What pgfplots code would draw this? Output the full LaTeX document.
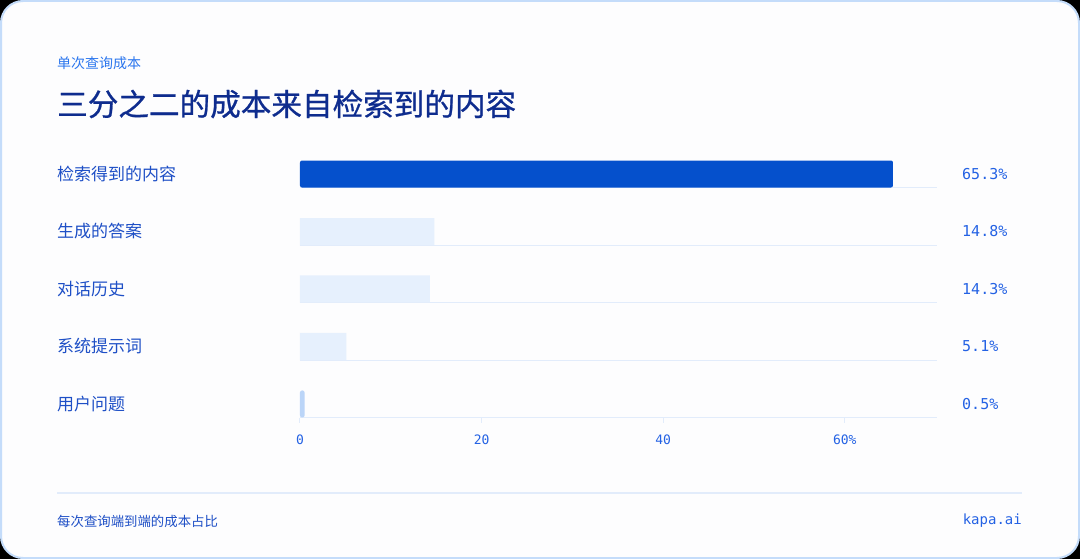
\documentclass[border=0pt]{standalone}
\usepackage{fontspec}
\usepackage{pgfplots}
\pgfplotsset{compat=1.18}
\setmainfont{Noto Sans CJK SC}
\newfontfamily\cjk{Noto Sans CJK SC}
\newfontfamily\cjktitle[FakeBold=0.8]{Noto Sans CJK SC}
\newfontfamily\mono{DejaVu Sans Mono}
\definecolor{cardbg}{HTML}{FDFDFE}
\definecolor{cardborder}{HTML}{C4DCFA}
\definecolor{subblue}{HTML}{2B76EE}
\definecolor{titlenavy}{HTML}{0E2C8E}
\definecolor{catblue}{HTML}{1E4FC6}
\definecolor{valblue}{HTML}{2462E4}
\definecolor{bardark}{HTML}{0550CC}
\definecolor{barlight}{HTML}{E6F0FD}
\definecolor{barfaint}{HTML}{BBD5F8}
\definecolor{linecol}{HTML}{E2ECFB}
\begin{document}
\begin{tikzpicture}[x=1pt,y=1pt]
\fill[black] (0,0) rectangle (1080,-559);
\draw[fill=cardbg, draw=cardborder, line width=2pt, rounded corners=22pt] (1,-1) rectangle (1079,-558);
\node[anchor=west, inner sep=0pt, text=subblue, font=\cjk\fontsize{14}{14}\selectfont] at (57,-63) {单次查询成本};
\node[anchor=west, inner sep=0pt, text=titlenavy, font=\cjktitle\fontsize{30.6}{31}\selectfont] at (57,-104) {三分之二的成本来自检索到的内容};
\draw[linecol, line width=1.5pt] (57,-493) -- (1022,-493);
\node[anchor=west, inner sep=0pt, text=catblue, font=\cjk\fontsize{13.4}{14}\selectfont] at (57,-521) {每次查询端到端的成本占比};
\node[anchor=east, inner sep=0pt, text=valblue, font=\mono\fontsize{14}{14}\selectfont] at (1022,-521) {kapa.ai};
\begin{axis}[
  at={(300pt,-417.5pt)}, anchor=south west,
  width=637pt, height=278pt, scale only axis,
  xmin=0, xmax=70.15, ymin=-0.6, ymax=4.235,
  y dir=reverse,
  xbar, bar width=27pt,
  axis line style={draw=none},
  ytick={0,1,2,3,4},
  yticklabels={检索得到的内容,生成的答案,对话历史,系统提示词,用户问题},
  ytick style={draw=none},
  yticklabel style={anchor=west, inner sep=0pt, xshift=-238pt, text=catblue, font=\cjk\fontsize{17}{17}\selectfont},
  xtick={0,20,40,60},
  xticklabels={0,20,40,60\%},
  xtick pos=bottom,
  tick align=outside,
  major tick length=5pt,
  xtick style={draw=linecol, line width=1pt},
  xticklabel style={text=valblue, font=\mono\fontsize{13}{13}\selectfont, inner sep=0pt, anchor=base, yshift=-22pt},
  clip=false,
]
\pgfplotsinvokeforeach{0,1,2,3,4}{
  \draw[linecol, line width=1pt] (axis cs:0,#1.235) -- (axis cs:70.15,#1.235);
}
\addplot[fill=bardark, draw=none, bar shift=0pt, rounded corners=2pt] coordinates {(65.3,0)};
\addplot[fill=barlight, draw=none, bar shift=0pt] coordinates {(14.8,1) (14.3,2) (5.1,3)};
\addplot[fill=barfaint, draw=none, bar shift=0pt, rounded corners=2pt] coordinates {(0.5,4)};
\end{axis}
\begin{axis}[
  at={(300pt,-417.5pt)}, anchor=south west,
  width=637pt, height=278pt, scale only axis,
  xmin=0, xmax=70.15, ymin=-0.6, ymax=4.235,
  y dir=reverse,
  hide x axis,
  axis line style={draw=none},
  ytick={0,1,2,3,4},
  yticklabels={65.3\%,14.8\%,14.3\%,5.1\%,0.5\%},
  yticklabel pos=right,
  ytick style={draw=none},
  yticklabel style={anchor=west, inner sep=0pt, xshift=25pt, text=valblue, font=\mono\fontsize{15}{15}\selectfont},
]
\end{axis}
\end{tikzpicture}
\end{document}
